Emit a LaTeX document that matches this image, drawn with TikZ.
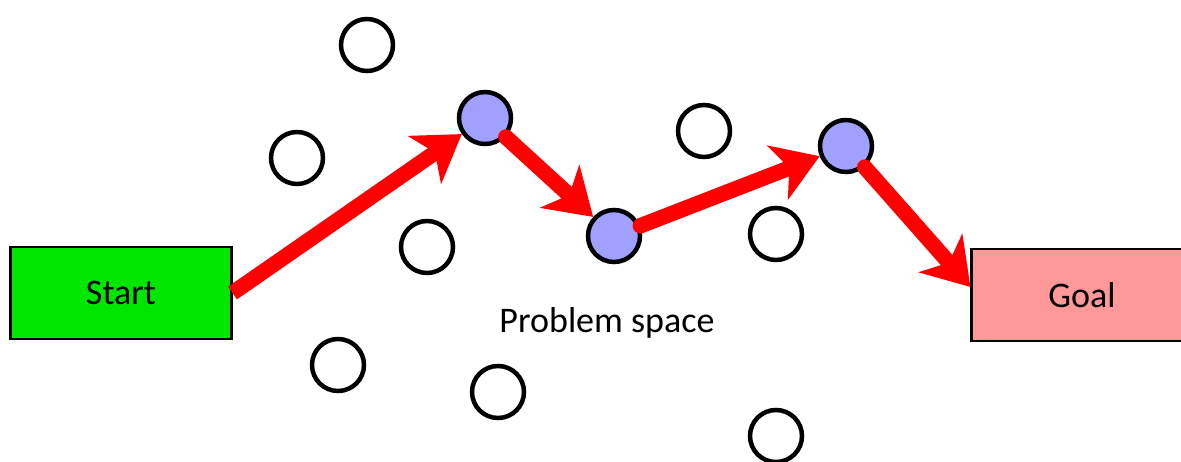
\documentclass[tikz,border=0pt]{standalone}
\usepackage{fontspec}
\setmainfont{Carlito}
\usepackage{tikz}
\usetikzlibrary{arrows.meta,positioning}
\definecolor{startgreen}{RGB}{0,230,0}
\definecolor{goalpink}{RGB}{255,153,153}
\definecolor{visitblue}{RGB}{160,160,255}

\begin{document}
\begin{tikzpicture}[
    x=0.02cm, y=-0.02cm,
    box/.style={draw,line width=1.2pt,minimum width=4.42cm,minimum height=1.84cm,font=\fontsize{20.5}{24}\selectfont},
    spot/.style={circle,draw,line width=0.09cm,minimum size=1.04cm,inner sep=0pt,fill=white},
    visited/.style={spot,fill=visitblue},
    arr/.style={-{Stealth[length=0.9cm,width=1.15cm,inset=0.25cm]},red,line width=0.31cm,line cap=round}
]
\useasboundingbox (0,0) rectangle (1181,462);

\node[box,fill=startgreen] (start) at (121,293) {Start};
\node[box,fill=goalpink] (goal) at (1082,295) {Goal};

% states of the problem space
\node[spot] (s1) at (367,45) {};
\node[spot] (s2) at (297,158) {};
\node[spot] (s3) at (427,247) {};
\node[spot] (s4) at (338,365) {};
\node[spot] (s5) at (498,392) {};
\node[spot] (s6) at (704,131) {};
\node[spot] (s7) at (776,234) {};
\node[spot] (s8) at (776,436) {};

% states on the path
\node[visited] (b1) at (485,118) {};
\node[visited] (b2) at (614,236) {};
\node[visited] (b3) at (846,146) {};

\node[font=\fontsize{20.5}{24}\selectfont] (space) at (607,323) {Problem space};

\draw[arr,line cap=butt] (start.east) -- (b1);
\draw[arr] (b1) -- (b2);
\draw[arr] (b2) -- (b3);
\draw[arr] (b3) -- ([yshift=0.16cm]goal.west);
\end{tikzpicture}
\end{document}
